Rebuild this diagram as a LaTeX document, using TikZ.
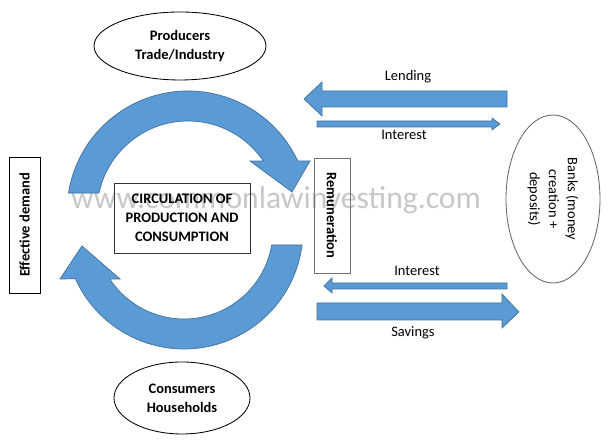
\documentclass[tikz,border=0pt]{standalone}
\usepackage{fontspec}
\setmainfont{Carlito}
\usetikzlibrary{shapes.geometric}
\definecolor{flowblue}{HTML}{5B9BD5}
\definecolor{flowedge}{HTML}{41719C}
\begin{document}
\begin{tikzpicture}[
        font=\fontsize{10.3}{13.5}\selectfont,
        strong/.style={font=\fontsize{10.3}{13.5}\selectfont\bfseries},
        flow/.style={fill=flowblue,draw=flowedge,line width=0.5pt},
        box/.style={draw,line width=0.6pt,align=center,inner sep=0pt},
        oval/.style={draw,ellipse,line width=0.6pt,align=center,inner sep=0pt}]
        \useasboundingbox (0,0) rectangle (15.2,11.125);
        %% Watermark
        \node[text=black!22,font=\fontsize{22.5}{27}\selectfont] (mark) at (6.9,6.125) {www.commonlawinvesting.com};
        %% Sectors
        \node[oval,strong,minimum width=4.3cm,minimum height=1.7cm] (prod) at (4.5,9.975) {Producers\\Trade/Industry};
        \node[oval,strong,minimum width=3.4cm,minimum height=1.8cm] (cons) at (4.55,1.175) {Consumers\\Households};
        \node[oval,draw=black!60,rotate=-90,minimum width=4.2cm,minimum height=2.35cm] (bank) at (13.825,6.15) {Banks (money\\creation +\\deposits)};
        %% Boxes
        \node[box,strong,minimum width=3.4cm,minimum height=1.75cm,draw=black!80] (circ) at (4.55,5.675) {CIRCULATION OF\\PRODUCTION AND\\CONSUMPTION};
        \node[box,strong,rotate=90,minimum width=3.4cm,minimum height=0.775cm] (demand) at (0.6125,5.5) {Effective demand};
        \node[box,strong,rotate=-90,draw=black!55,minimum width=2.875cm,minimum height=0.9cm] (remu) at (8.3,5.7375) {Remuneration};
        %% Circular flow
        \draw[flow] ([shift={(4.7,5.825)}]171:3.025) arc (171:25:3.025) -- (7.75,7.1) -- (7.3,6.325) -- (6.25,7.1)
            -- ([shift={(4.7,5.825)}]34:2.275) arc (34:168:2.275) -- cycle;
        \draw[flow] ([shift={(4.6,5.375)}]204.2:2.975) arc (204.2:352.76:2.975)
            -- ([shift={(4.6,5.375)}]350.3:2.225) arc (350.3:213.5:2.225) -- (3,4.15) -- (2.05,4.975) -- (1.5,4.15) -- cycle;
        %% Bank flows
        \draw[flow] (12.675,8.85) -- (8.05,8.85) -- (8.05,9.075) -- (7.6,8.65) -- (8.05,8.225) -- (8.05,8.45) -- (12.675,8.45) -- cycle;
        \draw[flow] (7.925,8.1) -- (12.3,8.1) -- (12.3,8.175) -- (12.5,8.025) -- (12.3,7.875) -- (12.3,7.95) -- (7.925,7.95) -- cycle;
        \draw[flow] (12.675,4.05) -- (8.3,4.05) -- (8.3,4.175) -- (8.1,3.975) -- (8.3,3.8) -- (8.3,3.9) -- (12.675,3.9) -- cycle;
        \draw[flow] (7.925,3.55) -- (12.55,3.55) -- (12.55,3.775) -- (12.975,3.325) -- (12.55,2.925) -- (12.55,3.125) -- (7.925,3.125) -- cycle;
        \node (lend) at (10.2,9.2) {Lending};
        \node (intup) at (10.1,7.75) {Interest};
        \node (intdown) at (10.425,4.35) {Interest};
        \node (save) at (10.325,2.8) {Savings};
    \end{tikzpicture}
\end{document}
